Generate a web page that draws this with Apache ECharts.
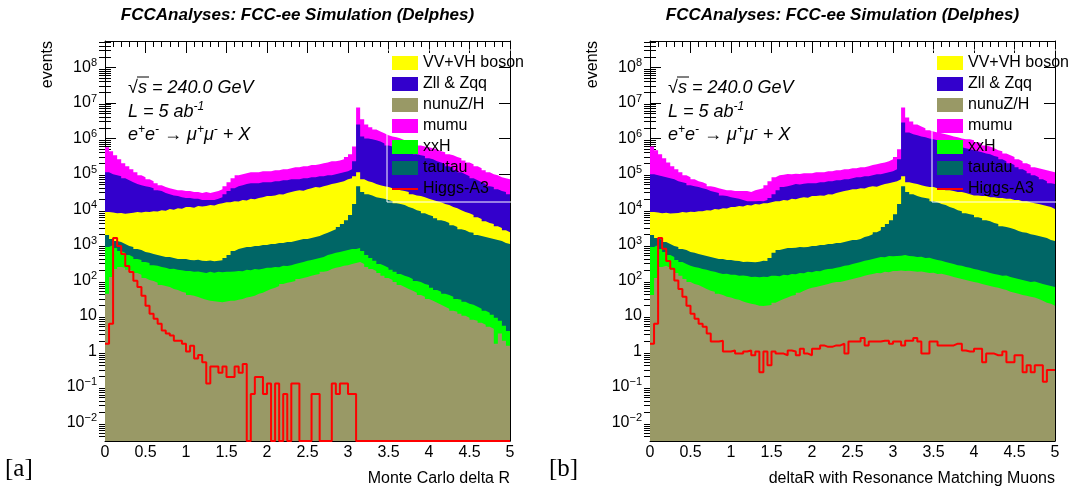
<!DOCTYPE html>
<html>
<head>
<meta charset="utf-8">
<script src="https://cdn.jsdelivr.net/npm/echarts@6/dist/echarts.min.js"></script>
<style>
  html, body { margin: 0; padding: 0; background: #ffffff; }
  #chart { width: 1078px; height: 500px; }
</style>
</head>
<body>
<div id="chart"></div>
<script>
// 100 bins of width 0.05 on [0, 5]; every array holds one value per bin.
// The background arrays are cumulative THStack heights (events per bin),
// listed from the top layer down, so each layer is drawn over the previous one.
const BIN_WIDTH = 0.05;
const X_MAX = 5;

// ---------- (a) Monte Carlo delta R ----------
const mcMumu = [5.7e5, 4.4e5, 3.4e5, 2.6e5, 2.0e5, 1.66e5, 1.36e5, 1.12e5, 9.2e4, 8.1e4,
  7.1e4, 6.3e4, 5.5e4, 4.8e4, 4.3e4, 4.0e4, 3.7e4, 3.5e4, 3.5e4, 3.3e4,
  3.3e4, 3.1e4, 3.1e4, 2.9e4, 3.1e4, 2.9e4, 3.1e4, 3.3e4, 3.7e4, 4.5e4,
  5.9e4, 7.6e4, 9.2e4, 9.9e4, 1.05e5, 1.12e5, 1.12e5, 1.12e5, 1.2e5, 1.2e5,
  1.2e5, 1.28e5, 1.28e5, 1.36e5, 1.36e5, 1.46e5, 1.55e5, 1.55e5, 1.66e5, 1.66e5,
  1.8e5, 1.8e5, 1.9e5, 2.0e5, 2.1e5, 2.3e5, 2.3e5, 2.4e5, 2.6e5, 3.0e5,
  3.6e5, 6.0e5, 7.5e6, 3.5e6, 2.5e6, 2.07e6, 1.81e6, 1.59e6, 1.4e6, 1.23e6,
  1.15e6, 1.08e6, 1.01e6, 8.9e5, 8.3e5, 7.8e5, 7.3e5, 6.4e5, 6.0e5, 5.7e5,
  5.3e5, 5.0e5, 4.4e5, 4.1e5, 3.6e5, 3.4e5, 3.0e5, 2.8e5, 2.4e5, 2.1e5,
  1.9e5, 1.66e5, 1.46e5, 1.28e5, 1.12e5, 9.9e4, 9.2e4, 8.1e4, 7.6e4, 7.1e4];
const mcZllZqq = [1.12e5, 9.9e4, 9.2e4, 8.7e4, 7.6e4, 6.7e4, 5.9e4, 5.2e4, 4.8e4, 4.5e4,
  4.3e4, 4.0e4, 3.5e4, 3.3e4, 2.9e4, 2.7e4, 2.5e4, 2.4e4, 2.2e4, 2.1e4,
  2.1e4, 2.0e4, 2.0e4, 1.84e4, 1.84e4, 1.84e4, 1.84e4, 2.0e4, 2.2e4, 2.7e4,
  3.3e4, 4.0e4, 4.5e4, 4.8e4, 5.2e4, 5.5e4, 5.5e4, 5.5e4, 5.9e4, 5.9e4,
  5.9e4, 6.3e4, 6.3e4, 6.7e4, 6.7e4, 7.1e4, 7.1e4, 7.1e4, 7.6e4, 7.6e4,
  8.1e4, 8.1e4, 8.7e4, 8.7e4, 9.2e4, 9.2e4, 9.9e4, 1.05e5, 1.12e5, 1.2e5,
  1.36e5, 2.3e5, 2.5e6, 1.15e6, 1.01e6, 9.5e5, 8.9e5, 8.3e5, 7.3e5, 6.4e5,
  6.0e5, 5.7e5, 5.0e5, 4.7e5, 4.4e5, 4.1e5, 3.6e5, 3.4e5, 3.2e5, 2.8e5,
  2.6e5, 2.3e5, 2.1e5, 1.9e5, 1.66e5, 1.46e5, 1.28e5, 1.12e5, 9.9e4, 8.7e4,
  7.6e4, 6.7e4, 5.9e4, 5.2e4, 4.5e4, 4.3e4, 3.7e4, 3.3e4, 3.1e4, 2.7e4];
const mcVVVH = [8.5e3, 8.2e3, 7.9e3, 8.0e3, 7.6e3, 7.9e3, 8.1e3, 8.5e3, 8.3e3, 8.7e3,
  8.5e3, 9.0e3, 8.8e3, 9.6e3, 9.3e3, 1.03e4, 9.8e3, 1.09e4, 1.05e4, 1.17e4,
  1.17e4, 1.13e4, 1.25e4, 1.21e4, 1.25e4, 1.33e4, 1.3e4, 1.42e4, 1.51e4, 1.61e4,
  1.61e4, 1.72e4, 1.68e4, 1.84e4, 1.8e4, 2.0e4, 1.95e4, 2.1e4, 2.2e4, 2.4e4,
  2.4e4, 2.5e4, 2.7e4, 2.65e4, 2.9e4, 3.1e4, 3.3e4, 3.5e4, 3.4e4, 3.7e4,
  4.0e4, 4.3e4, 4.2e4, 4.5e4, 4.8e4, 5.2e4, 5.5e4, 5.9e4, 6.3e4, 7.1e4,
  7.6e4, 8.7e4, 1.12e5, 7.1e4, 6.3e4, 5.9e4, 5.2e4, 4.8e4, 4.5e4, 4.3e4,
  4.0e4, 3.7e4, 3.5e4, 3.3e4, 3.1e4, 2.7e4, 2.5e4, 2.4e4, 2.2e4, 2.0e4,
  1.84e4, 1.72e4, 1.61e4, 1.42e4, 1.33e4, 1.17e4, 1.09e4, 9.6e3, 8.5e3, 7.9e3,
  7.0e3, 6.1e3, 5.4e3, 4.7e3, 4.2e3, 3.9e3, 3.4e3, 3.0e3, 2.6e3, 2.3e3];
const mcTautau = [1.91e3, 1.48e3, 1.29e3, 1.21e3, 1.07e3, 940, 880, 770, 720, 640,
  600, 560, 520, 490, 460, 460, 430, 400, 400, 400,
  380, 370, 385, 360, 355, 365, 350, 360, 370, 430,
  520, 680, 770, 820, 880, 880, 940, 940, 1.0e3, 1.0e3,
  1.07e3, 1.07e3, 1.14e3, 1.14e3, 1.21e3, 1.21e3, 1.29e3, 1.38e3, 1.48e3, 1.48e3,
  1.57e3, 1.68e3, 1.79e3, 2.0e3, 2.2e3, 2.5e3, 2.8e3, 3.2e3, 3.9e3, 5.0e3,
  7.0e3, 1.42e4, 4.5e4, 3.1e4, 2.7e4, 2.5e4, 2.2e4, 2.1e4, 2.0e4, 1.84e4,
  1.72e4, 1.51e4, 1.42e4, 1.33e4, 1.17e4, 1.09e4, 9.6e3, 9.0e3, 7.9e3, 7.0e3,
  6.5e3, 5.7e3, 5.0e3, 4.7e3, 4.2e3, 3.6e3, 3.2e3, 2.8e3, 2.6e3, 2.3e3,
  2.2e3, 1.91e3, 1.79e3, 1.68e3, 1.57e3, 1.48e3, 1.38e3, 1.29e3, 1.14e3, 1.07e3];
const mcXxH = [880, 1.0e3, 820, 680, 600, 520, 460, 400, 380, 330,
  310, 270, 260, 240, 230, 210, 215, 200, 195, 186,
  186, 175, 178, 172, 163, 175, 165, 175, 170, 175,
  175, 178, 186, 182, 200, 195, 210, 205, 215, 230,
  230, 240, 235, 260, 255, 270, 290, 310, 330, 360,
  380, 400, 430, 460, 520, 560, 600, 640, 680, 720,
  770, 770, 820, 680, 520, 430, 360, 290, 260, 230,
  200, 175, 153, 135, 126, 111, 97, 91, 80, 75,
  62, 54, 48, 42, 39, 35, 30, 28.5, 25, 22,
  20.7, 18.2, 16, 14, 12.3, 10.8, 8.9, 7.3, 5.3, 3.8];
const mcNunuZH = [42, 126, 210, 240, 230, 200, 186, 163, 144, 118,
  104, 97, 86, 75, 70, 66, 58, 54, 48, 45,
  39, 37, 34, 31, 28.5, 27, 26, 25, 24.5, 25.5,
  26.7, 26.7, 28.5, 30, 33, 35, 37, 42, 45, 51,
  58, 62, 70, 80, 86, 91, 97, 111, 118, 126,
  135, 144, 153, 175, 186, 210, 230, 240, 260, 270,
  290, 310, 330, 290, 240, 210, 186, 163, 135, 118,
  104, 91, 75, 66, 58, 51, 45, 39, 35, 30,
  26.7, 23.5, 20.7, 18.2, 16, 14, 13.1, 11.5, 10.1, 8.9,
  7.8, 7.3, 6.4, 5.7, 5.0, 4.4, 1.66, 3.2, 2.0, 1.46];
const mcHiggsA3 = [1.66, 6.0, 1580, 930, 560, 257, 174, 98, 66, 37,
  19.5, 11.5, 8.3, 6.0, 3.9, 3.2, 2.8, 2.0, 2.0, 1.66,
  1.0, 1.45, 0.63, 0.8, 0.5, 0.126, 0.38, 0.38, 0.25, 0.38,
  0.19, 0.19, 0.38, 0.25, 0.44, 0, 0.063, 0.19, 0.19, 0.063,
  0.126, 0, 0.126, 0, 0.063, 0, 0.126, 0.126, 0, 0,
  0, 0.063, 0.063, 0, 0, 0, 0.126, 0.063, 0.126, 0.126,
  0.063, 0.063, 0, 0, 0, 0, 0, 0, 0, 0,
  0, 0, 0, 0, 0, 0, 0, 0, 0, 0,
  0, 0, 0, 0, 0, 0, 0, 0, 0, 0,
  0, 0, 0, 0, 0, 0, 0, 0, 0, 0];

// ---------- (b) deltaR with resonance matching muons ----------
const rmMumu = [6.0e5, 4.7e5, 3.6e5, 2.8e5, 2.1e5, 1.66e5, 1.36e5, 1.12e5, 9.2e4, 8.1e4,
  7.1e4, 6.3e4, 5.9e4, 5.2e4, 4.5e4, 4.3e4, 4.0e4, 3.7e4, 3.5e4, 3.5e4,
  3.3e4, 3.3e4, 3.3e4, 3.3e4, 3.1e4, 3.5e4, 3.7e4, 4.0e4, 4.8e4, 6.3e4,
  8.1e4, 9.2e4, 9.6e4, 1.0e5, 9.8e4, 1.02e5, 1.0e5, 1.05e5, 1.05e5, 1.05e5,
  1.12e5, 1.12e5, 1.12e5, 1.2e5, 1.2e5, 1.28e5, 1.28e5, 1.36e5, 1.36e5, 1.46e5,
  1.46e5, 1.55e5, 1.55e5, 1.66e5, 1.8e5, 1.9e5, 2.0e5, 2.1e5, 2.3e5, 2.6e5,
  3.0e5, 5.0e5, 7.5e6, 3.9e6, 3.0e6, 2.5e6, 2.2e6, 1.94e6, 1.7e6, 1.59e6,
  1.49e6, 1.4e6, 1.31e6, 1.23e6, 1.15e6, 1.08e6, 1.01e6, 9.5e5, 9.5e5, 8.9e5,
  7.8e5, 7.3e5, 6.4e5, 6.0e5, 5.3e5, 4.7e5, 4.4e5, 3.8e5, 3.4e5, 3.0e5,
  2.6e5, 2.3e5, 2.0e5, 1.8e5, 1.55e5, 1.46e5, 1.36e5, 1.28e5, 1.2e5, 1.12e5];
const rmZllZqq = [9.9e4, 9.2e4, 8.7e4, 8.1e4, 7.6e4, 7.1e4, 6.3e4, 5.9e4, 5.5e4, 4.8e4,
  4.5e4, 4.3e4, 4.0e4, 3.7e4, 3.3e4, 3.1e4, 2.9e4, 2.5e4, 2.4e4, 2.2e4,
  2.1e4, 2.0e4, 1.84e4, 1.72e4, 1.72e4, 1.7e4, 1.74e4, 1.72e4, 1.84e4, 2.1e4,
  2.7e4, 3.5e4, 4.3e4, 4.5e4, 4.8e4, 5.2e4, 5.1e4, 5.3e4, 5.5e4, 5.5e4,
  5.5e4, 5.9e4, 5.9e4, 6.3e4, 6.3e4, 6.7e4, 6.7e4, 7.1e4, 7.1e4, 7.6e4,
  8.1e4, 8.1e4, 8.7e4, 8.7e4, 9.2e4, 9.9e4, 9.9e4, 1.05e5, 1.12e5, 1.2e5,
  1.36e5, 2.6e5, 2.85e6, 1.49e6, 1.31e6, 1.23e6, 1.15e6, 1.08e6, 1.01e6, 9.5e5,
  8.9e5, 8.3e5, 7.8e5, 7.3e5, 6.9e5, 6.0e5, 5.7e5, 5.3e5, 5.0e5, 4.7e5,
  4.4e5, 4.1e5, 3.8e5, 3.6e5, 3.2e5, 3.0e5, 2.6e5, 2.3e5, 2.0e5, 1.8e5,
  1.55e5, 1.36e5, 1.2e5, 1.05e5, 9.2e4, 8.1e4, 7.1e4, 6.3e4, 5.5e4, 5.2e4];
const rmVVVH = [8.5e3, 8.3e3, 7.9e3, 8.1e3, 7.7e3, 7.9e3, 8.0e3, 8.5e3, 8.2e3, 8.6e3,
  8.5e3, 9.0e3, 8.9e3, 9.6e3, 9.4e3, 1.03e4, 1.0e4, 1.09e4, 1.06e4, 1.17e4,
  1.17e4, 1.25e4, 1.22e4, 1.33e4, 1.3e4, 1.42e4, 1.38e4, 1.51e4, 1.49e4, 1.61e4,
  1.72e4, 1.7e4, 1.84e4, 1.8e4, 2.0e4, 1.95e4, 2.1e4, 2.2e4, 2.15e4, 2.4e4,
  2.4e4, 2.5e4, 2.45e4, 2.7e4, 2.65e4, 2.9e4, 3.1e4, 3.3e4, 3.5e4, 3.7e4,
  3.7e4, 4.0e4, 3.9e4, 4.3e4, 4.5e4, 4.4e4, 4.8e4, 5.2e4, 5.5e4, 5.9e4,
  6.3e4, 7.1e4, 8.7e4, 5.9e4, 5.5e4, 5.2e4, 4.8e4, 4.5e4, 4.3e4, 4.3e4,
  4.0e4, 3.7e4, 3.5e4, 3.5e4, 3.3e4, 3.1e4, 3.1e4, 2.9e4, 2.7e4, 2.5e4,
  2.5e4, 2.4e4, 2.4e4, 2.2e4, 2.2e4, 2.1e4, 2.1e4, 2.0e4, 2.0e4, 1.84e4,
  1.84e4, 1.72e4, 1.72e4, 1.61e4, 1.51e4, 1.42e4, 1.33e4, 1.25e4, 1.17e4, 1.03e4];
const rmTautau = [1.91e3, 1.57e3, 1.38e3, 1.21e3, 1.07e3, 940, 880, 770, 720, 640,
  600, 560, 520, 490, 460, 430, 400, 400, 380, 380,
  360, 355, 330, 335, 330, 325, 335, 360, 355, 430,
  600, 720, 770, 820, 820, 830, 880, 870, 880, 940,
  940, 1.0e3, 1.0e3, 1.07e3, 1.07e3, 1.14e3, 1.14e3, 1.21e3, 1.29e3, 1.38e3,
  1.38e3, 1.48e3, 1.68e3, 1.79e3, 2.0e3, 2.3e3, 2.6e3, 3.2e3, 3.9e3, 5.0e3,
  7.4e3, 1.42e4, 4.5e4, 3.1e4, 2.7e4, 2.4e4, 2.2e4, 2.1e4, 2.0e4, 1.72e4,
  1.61e4, 1.42e4, 1.33e4, 1.17e4, 1.09e4, 9.6e3, 9.0e3, 7.9e3, 7.4e3, 7.0e3,
  6.1e3, 5.7e3, 5.0e3, 4.7e3, 4.2e3, 3.9e3, 3.4e3, 3.2e3, 3.0e3, 2.8e3,
  2.5e3, 2.3e3, 2.2e3, 2.0e3, 1.91e3, 1.79e3, 1.68e3, 1.57e3, 1.38e3, 1.29e3];
const rmXxH = [880, 1.0e3, 770, 640, 520, 460, 380, 330, 290, 260,
  240, 230, 210, 200, 186, 175, 163, 153, 155, 144,
  144, 135, 138, 133, 126, 128, 124, 127, 126, 135,
  135, 132, 144, 140, 153, 150, 163, 160, 175, 172,
  186, 183, 200, 210, 215, 230, 240, 260, 270, 290,
  310, 330, 360, 380, 400, 430, 460, 455, 490, 485,
  490, 495, 520, 490, 485, 460, 465, 430, 435, 400,
  380, 360, 330, 310, 290, 270, 260, 240, 230, 210,
  200, 186, 175, 163, 153, 144, 135, 138, 126, 118,
  111, 104, 97, 91, 93, 86, 80, 75, 70, 66];
const rmNunuZH = [39, 118, 240, 260, 230, 200, 163, 135, 111, 91,
  80, 75, 66, 58, 51, 48, 42, 39, 35, 33,
  30, 28.5, 25.5, 23.5, 22, 21, 19.5, 19, 19.8, 20.5,
  23.5, 26.7, 30, 33, 37, 39, 45, 51, 58, 62,
  66, 70, 75, 80, 86, 91, 90, 97, 104, 111,
  118, 126, 135, 144, 153, 163, 160, 175, 172, 186,
  186, 190, 184, 188, 182, 175, 178, 172, 163, 166,
  153, 155, 144, 135, 126, 118, 111, 104, 97, 91,
  86, 80, 75, 70, 66, 62, 58, 54, 48, 45,
  42, 39, 37, 35, 33, 30, 26.7, 23.5, 22, 19.4];
const rmHiggsA3 = [1.66, 6.0, 1580, 780, 355, 215, 100, 58, 35, 19.5,
  11.5, 8.3, 6.0, 5.0, 3.2, 1.9, 1.9, 2.0, 1.0, 1.0,
  1.07, 0.87, 0.87, 1.0, 1.07, 0.78, 1.0, 0.26, 1.0, 0.41,
  1.0, 0.87, 0.87, 0.78, 1.07, 1.0, 0.78, 1.2, 0.87, 0.78,
  1.2, 1.2, 1.48, 1.35, 1.35, 1.48, 1.48, 1.66, 0.87, 1.9,
  1.9, 1.9, 2.4, 1.48, 1.9, 1.9, 1.9, 2.0, 2.0, 1.66,
  1.9, 1.9, 1.48, 2.0, 2.0, 2.4, 1.9, 0.87, 0.87, 1.9,
  1.9, 1.48, 1.48, 1.48, 1.48, 1.66, 1.66, 1.07, 1.0, 1.0,
  1.2, 1.2, 0.5, 0.87, 0.87, 0.78, 0.78, 1.0, 0.5, 0.5,
  0.78, 0.78, 0.26, 0.41, 0.26, 0.41, 0.41, 0.14, 0.3, 0.3];

// Process names (legend order) and tick labels
const legendOrder = ['VV+VH boson', 'Zll & Zqq', 'nunuZ/H', 'mumu', 'xxH', 'tautau', 'Higgs-A3'];
const yMajorTicks = [1e-2, 1e-1, 1, 10, 100, 1e3, 1e4, 1e5, 1e6, 1e7, 1e8];
const xTickStep = 0.5;

// ---------- styling / layout ----------
const FONT = "'Liberation Sans', Arial, Helvetica, sans-serif";
const Y_MIN = 0.003;
const Y_MAX = 5.6e8;
const layerStyle = [
  { name: 'mumu',        color: '#ff00ff' },
  { name: 'Zll & Zqq',   color: '#3300cc' },
  { name: 'VV+VH boson', color: '#ffff00' },
  { name: 'tautau',      color: '#006666' },
  { name: 'xxH',         color: '#00ff00' },
  { name: 'nunuZ/H',     color: '#999966' }
];
const panels = [
  { left: 105, stacks: [mcMumu, mcZllZqq, mcVVVH, mcTautau, mcXxH, mcNunuZH], signal: mcHiggsA3,
    xTitle: 'Monte Carlo delta R', tag: '[a]', tagX: 5, textX: 128, legendX: 387 },
  { left: 650, stacks: [rmMumu, rmZllZqq, rmVVVH, rmTautau, rmXxH, rmNunuZH], signal: rmHiggsA3,
    xTitle: 'deltaR with Resonance Matching Muons', tag: '[b]', tagX: 549, textX: 668, legendX: 932 }
];
const GRID_TOP = 41, GRID_W = 405, GRID_H = 400;

// minor ticks of the log axis at 2..9 x 10^n
const yMinorTicks = [];
for (let e = -3; e <= 8; e++) {
  for (let m = 2; m <= 9; m++) {
    const v = Number((m * Math.pow(10, e)).toPrecision(3));
    if (v > Y_MIN && v < Y_MAX) yMinorTicks.push(v);
  }
}

// histogram outline points: bin low edges, closing at the upper edge of the last bin
function histPoints(vals) {
  const pts = vals.map((v, i) => [Number((i * BIN_WIDTH).toFixed(2)), v > 0 ? v : Y_MIN]);
  pts.push([X_MAX, pts[pts.length - 1][1]]);
  return pts;
}

function powerLabel(v) {
  const n = Math.round(Math.log10(v));
  if (n === 0) return '1';
  if (n === 1) return '10';
  return '10{sup|' + (n < 0 ? '\u2212' + (-n) : String(n)) + '}';
}

const grids = [], xAxes = [], yAxes = [], series = [], legends = [], graphics = [];

panels.forEach((p, pi) => {
  grids.push({ left: p.left, top: GRID_TOP, width: GRID_W, height: GRID_H, containLabel: false });

  ['bottom', 'top'].forEach(pos => {
    xAxes.push({
      type: 'value', gridIndex: pi, position: pos, min: 0, max: X_MAX, interval: xTickStep,
      axisLine: { show: true, onZero: false, lineStyle: { color: '#000', width: 1 } },
      axisTick: { show: true, inside: true, length: 12, lineStyle: { color: '#000' } },
      minorTick: { show: true, splitNumber: 5, length: 6, lineStyle: { color: '#000' } },
      axisLabel: { show: pos === 'bottom', color: '#000', fontFamily: FONT, fontSize: 16, margin: 4 },
      splitLine: { show: false }, minorSplitLine: { show: false }
    });
  });

  ['left', 'right'].forEach(pos => {
    yAxes.push({
      type: 'log', logBase: 10, gridIndex: pi, position: pos, min: Y_MIN, max: Y_MAX,
      axisLine: { show: true, onZero: false, lineStyle: { color: '#000', width: 1 } },
      axisTick: { show: true, inside: true, length: 11, customValues: yMajorTicks, lineStyle: { color: '#000' } },
      axisLabel: {
        show: pos === 'left', customValues: yMajorTicks, formatter: powerLabel,
        color: '#000', fontFamily: FONT, fontSize: 16, margin: 8,
        rich: { sup: { fontSize: 11, fontFamily: FONT, color: '#000', padding: [0, 0, 9, 0] } }
      },
      splitLine: { show: false }
    });
  });
  ['left', 'right'].forEach(pos => {
    yAxes.push({
      type: 'log', logBase: 10, gridIndex: pi, position: pos, min: Y_MIN, max: Y_MAX,
      axisLine: { show: false },
      axisTick: { show: true, inside: true, length: 6, customValues: yMinorTicks, lineStyle: { color: '#000' } },
      axisLabel: { show: false },
      splitLine: { show: false }
    });
  });

  const xIdx = pi * 2, yIdx = pi * 4;
  p.stacks.forEach((vals, li) => {
    series.push({
      type: 'line', name: layerStyle[li].name, xAxisIndex: xIdx, yAxisIndex: yIdx,
      data: histPoints(vals), step: 'end', symbol: 'none', silent: true,
      color: layerStyle[li].color,
      lineStyle: { width: 0, color: layerStyle[li].color },
      areaStyle: { color: layerStyle[li].color, opacity: 1, origin: 'start' },
      z: 2
    });
  });
  series.push({
    type: 'line', name: 'Higgs-A3', xAxisIndex: xIdx, yAxisIndex: yIdx,
    data: histPoints(p.signal), step: 'end', symbol: 'none', silent: true,
    color: '#ff0000', lineStyle: { width: 2, color: '#ff0000' }, z: 4
  });

  legends.push({
    orient: 'vertical', left: p.legendX, top: 50, padding: 5,
    itemWidth: 26, itemHeight: 14, itemGap: 5, icon: 'rect', selectedMode: false,
    borderColor: '#ffffff', borderWidth: 1,
    itemStyle: { borderWidth: 0 },
    textStyle: { color: '#000', fontFamily: FONT, fontSize: 16, padding: [0, 0, 0, 0] },
    data: legendOrder.map(n => n === 'Higgs-A3'
      ? { name: n, icon: 'path://M0,0M26,14M0,6L26,6L26,8L0,8Z' }
      : { name: n })
  });

  const cx = p.left + GRID_W / 2 - 10;
  const base = { fill: '#000', fontFamily: FONT, verticalAlign: 'middle', textVerticalAlign: 'middle' };
  const supItalic = { fontSize: 12, fontStyle: 'italic', fontFamily: FONT, fill: '#000', padding: [0, 0, 10, 0] };
  graphics.push(
    { type: 'text', x: cx, y: 15, silent: true,
      style: Object.assign({}, base, { text: 'FCCAnalyses: FCC-ee Simulation (Delphes)', fontSize: 17,
        fontWeight: 'bold', fontStyle: 'italic', align: 'center', textAlign: 'center' }) },
    { type: 'text', x: p.textX, y: 88, silent: true,
      style: Object.assign({}, base, { text: '\u221As = 240.0 GeV', fontSize: 18, fontStyle: 'italic', align: 'left', textAlign: 'left' }) },
    // bar of the square-root sign over "s"
    { type: 'line', silent: true,
      shape: { x1: p.textX + 9, y1: 77, x2: p.textX + 21, y2: 77 },
      style: { stroke: '#000', lineWidth: 1 } },
    { type: 'text', x: p.textX, y: 112, silent: true,
      style: Object.assign({}, base, { text: 'L = 5 ab{sup|-1}', fontSize: 18, fontStyle: 'italic', align: 'left', textAlign: 'left',
        rich: { sup: supItalic } }) },
    { type: 'text', x: p.textX, y: 135, silent: true,
      style: Object.assign({}, base, { text: 'e{sup|+}e{sup|-} \u2192 \u03BC{sup|+}\u03BC{sup|-} + X', fontSize: 18, fontStyle: 'italic',
        align: 'left', textAlign: 'left', rich: { sup: supItalic } }) },
    { type: 'text', x: p.left - 57, y: GRID_TOP, rotation: Math.PI / 2, silent: true,
      style: Object.assign({}, base, { text: 'events', fontSize: 16, align: 'right', textAlign: 'right' }) },
    { type: 'text', x: p.left + GRID_W, y: 479, silent: true,
      style: Object.assign({}, base, { text: p.xTitle, fontSize: 16, align: 'right', textAlign: 'right' }) },
    { type: 'text', x: p.tagX, y: 469, silent: true,
      style: Object.assign({}, base, { text: p.tag, fontSize: 25, fontFamily: "'Liberation Serif', 'DejaVu Serif', serif",
        align: 'left', textAlign: 'left' }) }
  );
});

const chart = echarts.init(document.getElementById('chart'), null, { renderer: 'canvas' });
chart.setOption({
  backgroundColor: '#ffffff',
  animation: false,
  grid: grids,
  xAxis: xAxes,
  yAxis: yAxes,
  legend: legends,
  series: series,
  graphic: graphics
});
</script>
</body>
</html>
